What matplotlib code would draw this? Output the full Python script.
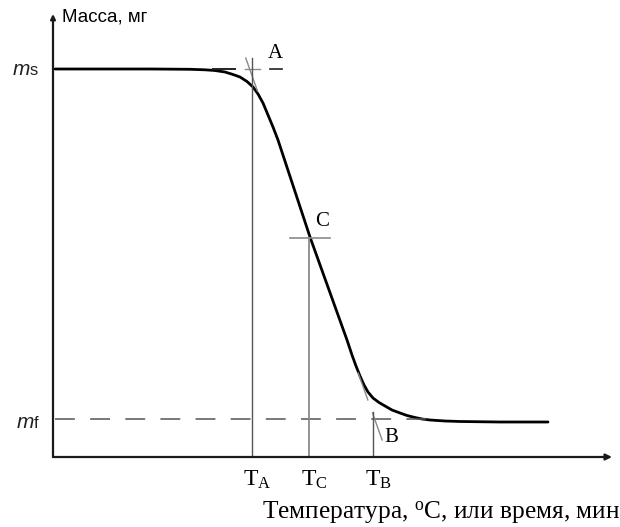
import matplotlib
matplotlib.use("Agg")
import matplotlib.pyplot as plt
import numpy as np

plt.rcParams['mathtext.fontset'] = 'custom'
plt.rcParams['mathtext.rm'] = 'Liberation Serif'
plt.rcParams['mathtext.it'] = 'Liberation Serif:italic'

# ---- data (arbitrary units: temperature / mass) ----
temp = [2, 97, 137, 152, 162, 172, 180, 187, 194, 200, 205, 210, 215, 220,
        225, 257, 294, 299, 303, 307, 311, 315, 320, 326, 332, 339, 347, 354,
        362, 369, 377, 392, 407, 447, 495]
mass = [388, 388, 387.7, 387.2, 386.5, 385, 382.5, 380, 375.5, 370, 363, 354,
        342, 330, 317, 220, 117, 102, 91, 81, 72, 65, 59, 54.5, 51, 47, 44,
        41.5, 39.5, 38, 37, 36, 35.5, 35, 35]

m_s = 388
m_f = 38
T_A, T_C, T_B = 199, 256, 320
m_C = 219
tangent_slope = -2.8          # mass per temperature unit, steepest part

point_labels = ['A', 'C', 'B']
tick_labels = [r'T$_\mathrm{A}$', r'T$_\mathrm{C}$', r'T$_\mathrm{B}$']
y_title = 'Масса, мг'
x_title = 'Температура, $^{\\mathrm{o}}$C, или время, мин'

W, H = 620, 527
fig = plt.figure(figsize=(W / 100, H / 100), dpi=100)
ax = fig.add_axes([53 / W, 1 - 457 / H, (612 - 53) / W, (457 - 14) / H])
ax.set_xlim(0, 559)
ax.set_ylim(0, 443)
for s in ax.spines.values():
    s.set_visible(False)
ax.set_xticks([])
ax.set_yticks([])

axc = '#1a1a1a'
thin = '#8a8a8a'

# axes with arrows
ax.annotate('', xy=(559, 0), xytext=(0, 0),
            arrowprops=dict(arrowstyle='-|>', color=axc, lw=1.6,
                            mutation_scale=9, shrinkA=0, shrinkB=0),
            annotation_clip=False)
ax.annotate('', xy=(0, 443), xytext=(0, 0),
            arrowprops=dict(arrowstyle='-|>', color=axc, lw=1.6,
                            mutation_scale=7, shrinkA=0, shrinkB=0),
            annotation_clip=False)

# main curve
ax.plot(temp, mass, color='#000000', lw=2.0, solid_capstyle='round',
        solid_joinstyle='round')

# dashed final mass line
ax.plot([2, 377], [m_f, m_f], color='#555555', lw=1.1, dashes=(13, 10))

# extension of initial plateau
ax.plot([160, 182], [m_s, m_s], color='#222222', lw=1.4)
ax.plot([192, 207], [m_s, m_s], color=thin, lw=1.0)

# tangent to steep part (through C)
def tang(m):
    return T_C + 1 + (m - m_C) / tangent_slope

for m0, m1 in [(399, 366), (84, 57), (44, 17)]:
    ax.plot([tang(m0), tang(m1)], [m0, m1], color=thin, lw=1.0)

# horizontal mark at C
ax.plot([T_C - 19, T_C + 21], [m_C, m_C], color=thin, lw=1.2)

# vertical lines
ax.plot([T_A, T_A], [0, 399], color='#555555', lw=1.0)
ax.plot([T_C, T_C], [0, m_C], color=thin, lw=1.3)
ax.plot([T_B, T_B], [0, 45], color='#555555', lw=1.0)

serif = 'Liberation Serif'
# point labels
ax.text(T_A + 23, 404, point_labels[0], family=serif, fontsize=15,
        ha='center', va='center')
ax.plot([T_A + 18, T_A + 30], [m_s, m_s], color='#222222', lw=1.2)
ax.text(T_C + 13, 235, point_labels[1], family=serif, fontsize=15,
        ha='center', va='center')
ax.text(T_B + 18, 19, point_labels[2], family=serif, fontsize=15,
        ha='center', va='center')

# tick labels
for t, lab in zip([T_A, T_C, T_B], tick_labels):
    ax.text(t + 5, -23, lab, family=serif, fontsize=17, ha='center',
            va='center')

# y-level labels
ax.text(-40, m_s, 'm', family='Liberation Sans', style='italic',
        fontsize=15, ha='left', va='center', color='#222222')
ax.text(-23, m_s - 1, 's', family='Liberation Sans', fontsize=12,
        ha='left', va='center', color='#222222')
ax.text(-36, m_f - 4, 'm', family='Liberation Sans', style='italic',
        fontsize=15, ha='left', va='center', color='#222222')
ax.text(-19, m_f - 4, 'f', family='Liberation Sans', fontsize=12,
        ha='left', va='center', color='#222222')

# axis titles
ax.text(9, 440, y_title, family='Liberation Sans', fontsize=13.5,
        ha='left', va='center')
ax.text(567, -56, x_title, family=serif, fontsize=18.3, ha='right',
        va='center')

fig.savefig('out.png', dpi=100, facecolor='white')
